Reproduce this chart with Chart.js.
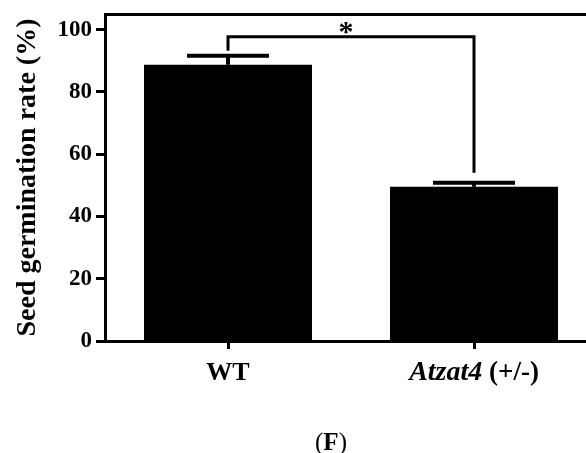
<!DOCTYPE html>
<html>
<head>
<meta charset="utf-8">
<title>Seed germination rate</title>
<script src="https://cdn.jsdelivr.net/npm/chart.js@4.4.0/dist/chart.umd.min.js"></script>
<style>
  html, body { margin: 0; padding: 0; background: #fff; overflow: hidden; }
  #wrap { position: relative; width: 586px; height: 453px; overflow: hidden; }
  #chart { position: absolute; left: 0; top: 0; }
  #caption {
    position: absolute; left: 0; top: 428px; width: 662px;
    text-align: center; font-family: "Liberation Serif", serif; font-size: 25px; color: #000;
  }
</style>
</head>
<body>
<div id="wrap">
  <canvas id="chart" width="620" height="453"></canvas>
  <div id="caption">(<b>F</b>)</div>
</div>
<script>
const categories = ['WT', 'Atzat4 (+/-)'];
const italicPart = ['', 'Atzat4'];          // leading italic part of each label
const germination = [88.7, 49.5];
const errors = [2.9, 1.3];
const yTicks = [0, 20, 40, 60, 80, 100];
// significance bracket between the two bars
const bracket = { from: 0, to: 1, top: 97.7, leftEnd: 93.2, rightEnd: 54.0, mark: '*' };

const FONT = '"Liberation Serif", serif';

// error bars, bracket and star, drawn from the data through the scales
const annotations = {
  id: 'annotations',
  afterDatasetsDraw(chart) {
    const { ctx, scales: { x, y } } = chart;
    ctx.save();
    ctx.strokeStyle = '#000';
    ctx.lineCap = 'butt';

    ctx.lineWidth = 4;
    germination.forEach((v, i) => {
      const px = x.getPixelForValue(i);
      const top = y.getPixelForValue(v + errors[i]);
      ctx.beginPath();
      ctx.moveTo(px, y.getPixelForValue(v));
      ctx.lineTo(px, top);
      ctx.moveTo(px - 41, top);
      ctx.lineTo(px + 41, top);
      ctx.stroke();
    });

    ctx.lineWidth = 3;
    const x0 = x.getPixelForValue(bracket.from);
    const x1 = x.getPixelForValue(bracket.to);
    const yTop = y.getPixelForValue(bracket.top);
    ctx.beginPath();
    ctx.moveTo(x0, y.getPixelForValue(bracket.leftEnd));
    ctx.lineTo(x0, yTop);
    ctx.lineTo(x1, yTop);
    ctx.lineTo(x1, y.getPixelForValue(bracket.rightEnd));
    ctx.stroke();

    ctx.fillStyle = '#000';
    ctx.font = 'bold 30px ' + FONT;
    ctx.textAlign = 'center';
    ctx.textBaseline = 'alphabetic';
    const m = ctx.measureText(bracket.mark);
    const cy = yTop - 9;
    const base = cy + (m.actualBoundingBoxAscent - m.actualBoundingBoxDescent) / 2;
    ctx.fillText(bracket.mark, (x0 + x1) / 2 - 5, base);
    ctx.restore();
  },
  afterDraw(chart) {
    // category labels with an italic gene name
    const { ctx, scales: { x }, chartArea } = chart;
    ctx.save();
    ctx.fillStyle = '#000';
    ctx.textAlign = 'left';
    ctx.textBaseline = 'alphabetic';
    const y = chartArea.bottom + 39;
    categories.forEach((label, i) => {
      const it = italicPart[i];
      const parts = [];
      if (it) parts.push({ text: it, font: 'italic bold 28px ' + FONT });
      parts.push({ text: label.slice(it.length), font: it ? 'bold 27px ' + FONT : 'bold 26px ' + FONT });
      let total = 0;
      parts.forEach(p => { ctx.font = p.font; p.w = ctx.measureText(p.text).width; total += p.w; });
      let cx = x.getPixelForTick(i) - total / 2;
      parts.forEach(p => { ctx.font = p.font; ctx.fillText(p.text, cx, y); cx += p.w; });
    });
    ctx.restore();
  }
};

new Chart(document.getElementById('chart'), {
  type: 'bar',
  data: {
    labels: categories,
    datasets: [{
      data: germination,
      backgroundColor: '#000',
      borderWidth: 0,
      barPercentage: 0.683,
      categoryPercentage: 1
    }]
  },
  options: {
    responsive: false,
    animation: false,
    layout: { padding: { top: 14, right: 23, bottom: 0, left: 0 } },
    plugins: { legend: { display: false }, tooltip: { enabled: false } },
    scales: {
      x: {
        grid: { display: true, drawOnChartArea: false, drawTicks: true, tickLength: 8, tickWidth: 3, tickColor: '#000', offset: false },
        border: { display: true, width: 3, color: '#000' },
        ticks: { color: 'rgba(0,0,0,0)' },
        afterFit(s) { s.height = 112; s.paddingLeft = 0; s.paddingRight = 0; }
      },
      xTop: {
        type: 'category',
        position: 'top',
        grid: { display: false },
        ticks: { display: false },
        border: { display: true, width: 3, color: '#000' },
        afterFit(s) { s.height = 0; s.paddingLeft = 0; s.paddingRight = 0; }
      },
      y: {
        min: 0,
        max: 105,
        afterBuildTicks(s) { s.ticks = yTicks.map(v => ({ value: v })); },
        grid: { display: true, drawOnChartArea: false, drawTicks: true, tickLength: 9, tickWidth: 3, tickColor: '#000' },
        border: { display: true, width: 3, color: '#000' },
        ticks: { color: '#000', padding: 4, font: { family: FONT, size: 23, weight: 'bold' } },
        title: {
          display: true,
          text: 'Seed germination rate (%)',
          color: '#000',
          font: { family: FONT, size: 28, weight: 'bold' },
          padding: { top: 11, bottom: 0 }
        },
        afterFit(s) { s.width = 105; s.paddingTop = 0; s.paddingBottom = 0; }
      }
    }
  },
  plugins: [annotations]
});
</script>
</body>
</html>
